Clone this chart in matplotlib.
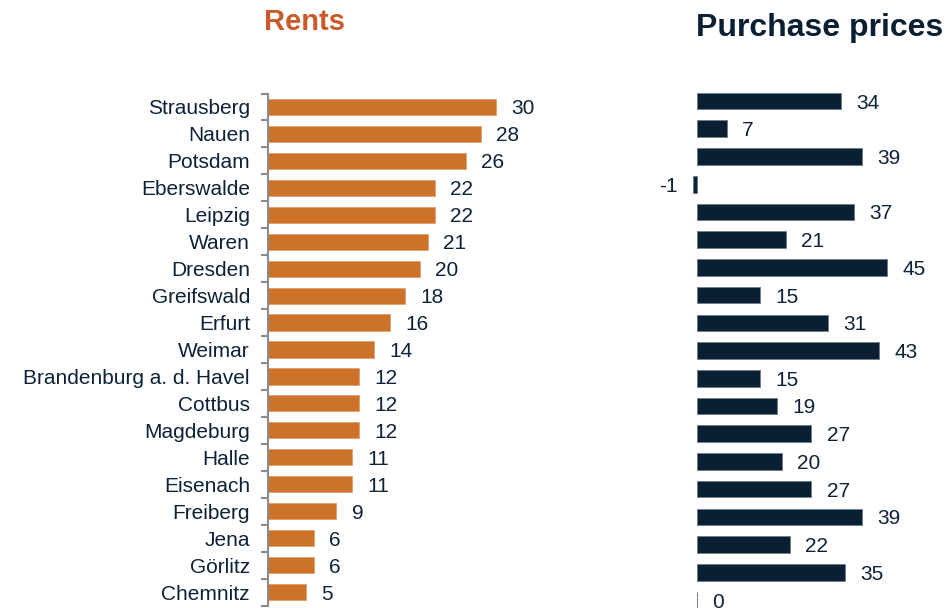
import matplotlib.pyplot as plt
import numpy as np

plt.rcParams['font.family'] = ['Liberation Sans', 'DejaVu Sans']

cities = [
    "Strausberg", "Nauen", "Potsdam", "Eberswalde", "Leipzig", "Waren",
    "Dresden", "Greifswald", "Erfurt", "Weimar", "Brandenburg a. d. Havel",
    "Cottbus", "Magdeburg", "Halle", "Eisenach", "Freiberg", "Jena",
    "Görlitz", "Chemnitz",
]
rents = [30, 28, 26, 22, 22, 21, 20, 18, 16, 14, 12, 12, 12, 11, 11, 9, 6, 6, 5]
purchase = [34, 7, 39, -1, 37, 21, 45, 15, 31, 43, 15, 19, 27, 20, 27, 39, 22, 35, 0]

ORANGE = "#CC7229"
NAVY = "#0B1F33"
TEXT = "#0D2238"
TITLE_ORANGE = "#CB5A2A"

W, H = 951, 608
fig = plt.figure(figsize=(W / 100, H / 100), dpi=100)

# ── Rents panel ──────────────────────────────────────────────────────
ax1 = fig.add_axes([268 / W, 2.5 / H, 300 / W, 512 / H])
y1 = np.arange(len(cities))
ax1.barh(y1, rents, height=0.6, color=ORANGE, edgecolor="#E0A070", linewidth=0.6)
ax1.set_xlim(0, 300 / 7.6)
ax1.set_ylim(len(cities) - 0.5, -0.5)
ax1.set_yticks(y1)
ax1.set_yticklabels(cities, fontsize=15, color=TEXT, va="center_baseline")
ax1.tick_params(axis="y", which="major", length=0, pad=13)
ax1.set_yticks(np.arange(-0.5, len(cities)), minor=True)
ax1.tick_params(axis="y", which="minor", length=5, width=1.5, color="#8C8C8C")
ax1.set_xticks([])
for s in ["top", "right", "bottom"]:
    ax1.spines[s].set_visible(False)
ax1.spines["left"].set_color("#8C8C8C")
ax1.spines["left"].set_linewidth(1.5)
for yy, v in zip(y1, rents):
    ax1.annotate(str(v), (v, yy), xytext=(11, 0), textcoords="offset points",
                 ha="left", va="center_baseline", fontsize=15, color=TEXT)

# ── Purchase prices panel ───────────────────────────────────────────
ax2 = fig.add_axes([675.8 / W, (H - 613.9) / H, 275.2 / W, 526.7 / H])
y2 = np.arange(len(purchase))
ax2.barh(y2, purchase, height=0.6, color=NAVY, edgecolor="#6F7F8F", linewidth=0.7)
ax2.set_xlim(-5, 60)
ax2.set_ylim(len(purchase) - 0.5, -0.5)
ax2.axis("off")
for yy, v in zip(y2, purchase):
    if v < 0:
        ax2.annotate(str(v), (v, yy), xytext=(-11, 0), textcoords="offset points",
                     ha="right", va="center_baseline", fontsize=15, color=TEXT)
    else:
        ax2.annotate(str(v), (v, yy), xytext=(11, 0), textcoords="offset points",
                     ha="left", va="center_baseline", fontsize=15, color=TEXT)

# ── Titles ───────────────────────────────────────────────────────────
fig.text(305 / W, 1 - 22 / H, "Rents", fontsize=21, fontweight="bold",
         color=TITLE_ORANGE, ha="center", va="center")
fig.text(820 / W, 1 - 28 / H, "Purchase prices", fontsize=23, fontweight="bold",
         color=NAVY, ha="center", va="center")

fig.savefig("out.png", dpi=100)
